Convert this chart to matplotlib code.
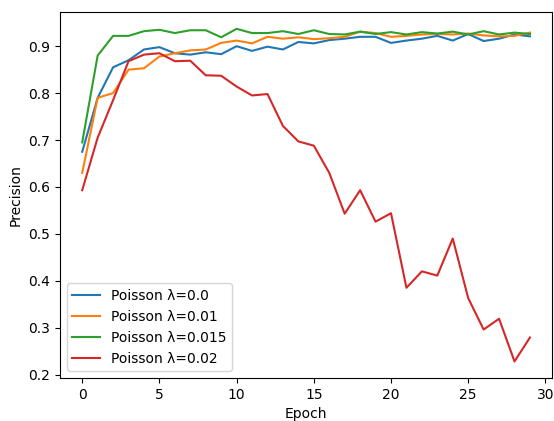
import matplotlib
matplotlib.use('Agg')
import matplotlib.pyplot as plt

epochs = list(range(30))

prec_00 = [0.675, 0.79, 0.855, 0.87, 0.893, 0.898, 0.885, 0.882, 0.887, 0.883,
           0.9, 0.89, 0.899, 0.893, 0.909, 0.906, 0.913, 0.916, 0.92, 0.92,
           0.907, 0.912, 0.916, 0.922, 0.912, 0.926, 0.911, 0.916, 0.925, 0.921]
prec_001 = [0.63, 0.79, 0.8, 0.85, 0.853, 0.878, 0.885, 0.891, 0.893, 0.907,
            0.912, 0.906, 0.92, 0.916, 0.919, 0.915, 0.917, 0.92, 0.931, 0.928,
            0.92, 0.922, 0.925, 0.926, 0.925, 0.927, 0.923, 0.921, 0.922, 0.929]
prec_0015 = [0.695, 0.88, 0.922, 0.922, 0.932, 0.935, 0.928, 0.934, 0.934, 0.919,
             0.937, 0.928, 0.928, 0.932, 0.926, 0.934, 0.926, 0.925, 0.931, 0.926,
             0.93, 0.925, 0.93, 0.927, 0.931, 0.925, 0.932, 0.925, 0.929, 0.926]
prec_002 = [0.593, 0.705, 0.785, 0.868, 0.882, 0.885, 0.868, 0.869, 0.838, 0.837,
            0.814, 0.795, 0.798, 0.73, 0.697, 0.688, 0.63, 0.543, 0.593, 0.526,
            0.544, 0.385, 0.42, 0.411, 0.49, 0.363, 0.296, 0.319, 0.228, 0.279]

series = [
    ('Poisson λ=0.0', prec_00),
    ('Poisson λ=0.01', prec_001),
    ('Poisson λ=0.015', prec_0015),
    ('Poisson λ=0.02', prec_002),
]

fig, ax = plt.subplots(figsize=(5.54, 4.21), dpi=100)
for label, vals in series:
    ax.plot(epochs, vals, label=label)

ax.set_xlabel('Epoch')
ax.set_ylabel('Precision')
ax.legend(loc='lower left')

# match the reference axes box
fig.subplots_adjust(left=0.108, right=0.997, top=0.971, bottom=0.102)
plt.savefig('out.png', dpi=100)
